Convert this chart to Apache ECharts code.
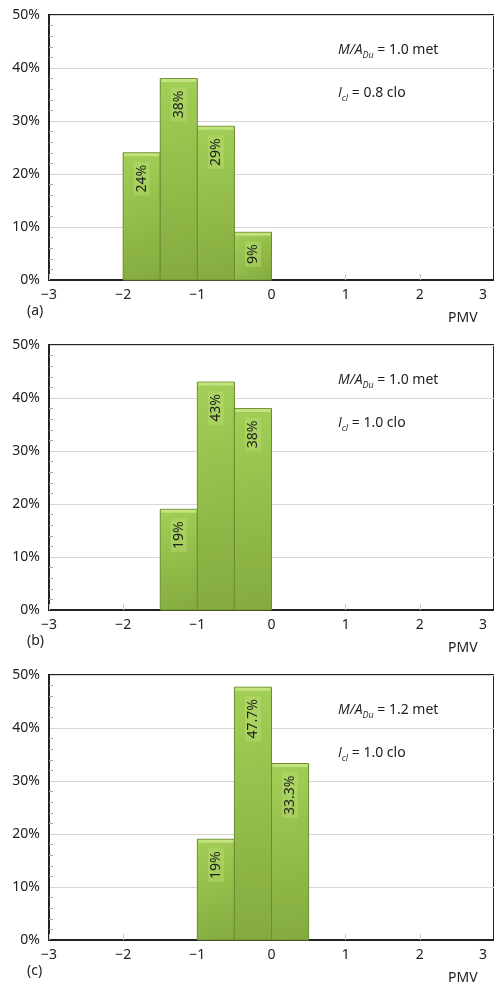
<!DOCTYPE html>
<html>
<head>
<meta charset="utf-8">
<script src="https://cdn.jsdelivr.net/npm/echarts@6/dist/echarts.min.js"></script>
<style>
html,body{margin:0;padding:0;background:#fff;}
#c{width:494px;height:989px;}
</style>
</head>
<body>
<div id="c"></div>
<script>
// ---- data ----
const xTicks = [-3, -2, -1, 0, 1, 2, 3];
const yTicks = [0, 10, 20, 30, 40, 50];

const binsA = [[-2, -1.5], [-1.5, -1], [-1, -0.5], [-0.5, 0]];
const valuesA = [24, 38, 29, 9];
const labelsA = ['24%', '38%', '29%', '9%'];

const binsB = [[-1.5, -1], [-1, -0.5], [-0.5, 0]];
const valuesB = [19, 43, 38];
const labelsB = ['19%', '43%', '38%'];

const binsC = [[-1, -0.5], [-0.5, 0], [0, 0.5]];
const valuesC = [19, 47.7, 33.3];
const labelsC = ['19%', '47.7%', '33.3%'];

const panelTags = ['(a)', '(b)', '(c)'];
const metText = ['1.0', '1.0', '1.2'];
const cloText = ['0.8', '1.0', '1.0'];
const xName = 'PMV';

// ---- layout ----
const FONT = 'Noto Sans';
const IFONT = 'Open Sans';
const tops = [15, 345, 675];
const plotH = 265;
const plotL = 49;
const plotW = 448;

const chart = echarts.init(document.getElementById('c'), null, {renderer: 'canvas'});

function fmtX(v) {
  if (v === 3) return '{r|3}';
  return v < 0 ? '\u2212' + Math.abs(v) : String(v);
}

function makeRender(labels) {
  return function (params, api) {
    const x0 = api.value(0), x1 = api.value(1), v = api.value(2);
    const p0 = api.coord([x0, v]);
    const p1 = api.coord([x1, 0]);
    const w = p1[0] - p0[0], h = p1[1] - p0[1];
    return {
      type: 'group',
      children: [
        {
          type: 'rect',
          shape: {x: p0[0], y: p0[1], width: w, height: h},
          style: {
            fill: new echarts.graphic.LinearGradient(0, 0, 1, 1, [
              {offset: 0, color: '#a3cf57'},
              {offset: 1, color: '#84aa3e'}
            ]),
            stroke: '#6a8d30',
            lineWidth: 1
          }
        },
        {
          type: 'rect',
          shape: {x: p0[0] + 1, y: p0[1] + 0.5, width: w - 2, height: 3},
          style: {fill: '#c2e37e'}
        },
        {
          type: 'text',
          x: (p0[0] + p1[0]) / 2,
          y: p0[1] + 9,
          rotation: Math.PI / 2,
          style: {
            text: labels[params.dataIndex],
            align: 'right',
            verticalAlign: 'middle',
            fill: '#222',
            fontSize: 14,
            fontFamily: FONT,
            backgroundColor: 'rgba(185,222,110,0.45)',
            padding: [1, 3, 1, 3]
          }
        }
      ]
    };
  };
}

const grids = [], xAxes = [], yAxes = [], series = [], graphics = [];
const allBins = [binsA, binsB, binsC];
const allVals = [valuesA, valuesB, valuesC];
const allLabels = [labelsA, labelsB, labelsC];

function annot(left, top, main, sub, rest) {
  return {
    type: 'text', left: left, top: top,
    style: {
      text: '{i|' + main + '}{s|' + sub + '}{n|' + rest + '}',
      rich: {
        i: {fontStyle: 'italic', fontSize: 14, fontFamily: IFONT, fill: '#222', lineHeight: 18, verticalAlign: 'bottom'},
        s: {fontStyle: 'italic', fontSize: 9, fontFamily: IFONT, fill: '#222', lineHeight: 18, verticalAlign: 'bottom', padding: [0, 0, -3, 0]},
        n: {fontSize: 14, fontFamily: FONT, fill: '#222', lineHeight: 18, verticalAlign: 'bottom'}
      }
    }
  };
}

for (let i = 0; i < 3; i++) {
  grids.push({
    left: plotL, top: tops[i], width: plotW, height: plotH,
    show: true, borderColor: '#222', borderWidth: 2, backgroundColor: '#fff'
  });
  xAxes.push({
    type: 'value', gridIndex: i, min: xTicks[0], max: xTicks[xTicks.length - 1], interval: 1,
    axisLine: {show: true, onZero: false, lineStyle: {color: '#222', width: 2}},
    axisTick: {show: true, inside: true, length: 6, lineStyle: {color: '#c8c8c8'}},
    splitLine: {show: false},
    axisLabel: {
      formatter: fmtX, color: '#222', fontSize: 14, fontFamily: FONT, margin: 8,
      rich: {r: {fontSize: 14, fontFamily: FONT, color: '#222', padding: [0, 22, 0, 0]}}
    }
  });
  yAxes.push({
    type: 'value', gridIndex: i, min: yTicks[0], max: yTicks[yTicks.length - 1], interval: 10,
    axisLine: {show: true, onZero: false, lineStyle: {color: '#222', width: 2}},
    axisTick: {show: false, inside: true},
    minorTick: {show: true, splitNumber: 5, length: 4, lineStyle: {color: '#aaa'}},
    splitLine: {show: true, lineStyle: {color: '#d6d6d6', width: 1}},
    axisLabel: {formatter: '{value}%', color: '#222', fontSize: 14, fontFamily: FONT, margin: 9}
  });
  series.push({
    type: 'custom', xAxisIndex: i, yAxisIndex: i,
    renderItem: makeRender(allLabels[i]),
    encode: {x: [0, 1], y: 2},
    data: allBins[i].map((b, k) => [b[0], b[1], allVals[i][k]]),
    z: 3
  });
  const base = tops[i] + plotH;
  graphics.push({
    type: 'text', left: 27, top: base + 24,
    style: {text: panelTags[i], fill: '#222', fontSize: 14, fontFamily: FONT}
  });
  graphics.push({
    type: 'text', left: 448, top: base + 31,
    style: {text: xName, fill: '#222', fontSize: 14, fontFamily: FONT}
  });
  graphics.push(annot(338, tops[i] + 28, 'M/A', 'Du', ' = ' + metText[i] + ' met'));
  graphics.push(annot(338, tops[i] + 71, 'I', 'cl', ' = ' + cloText[i] + ' clo'));
}

chart.setOption({
  backgroundColor: '#fff',
  animation: false,
  grid: grids,
  xAxis: xAxes,
  yAxis: yAxes,
  series: series,
  graphic: graphics
});
</script>
</body>
</html>
